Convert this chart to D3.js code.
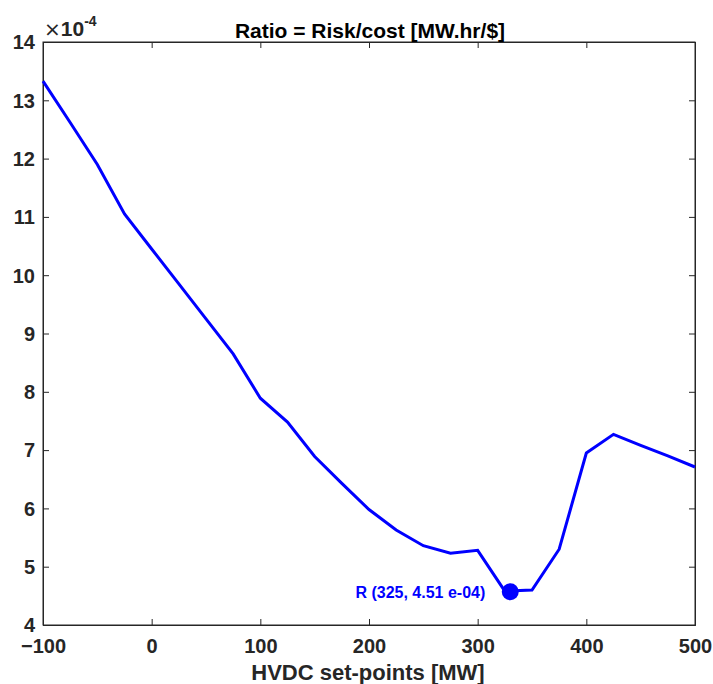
<!DOCTYPE html>
<html><head><meta charset="utf-8">
<script src="https://cdn.jsdelivr.net/npm/d3@7"></script>
<style>body{margin:0;background:#fff}svg{display:block}text{font-family:"Liberation Sans",Arial,sans-serif;font-weight:bold}</style>
</head><body>
<svg id="c" width="713" height="684"></svg>
<script>
const setPoints = [-100,-75,-50,-25,0,25,50,75,100,125,150,175,200,225,250,275,300,325,350,375,400,425,450,475,500];
const ratio = [13.33,12.62,11.9,11.05,10.45,9.85,9.25,8.65,7.89,7.48,6.89,6.43,5.98,5.63,5.36,5.23,5.28,4.58,4.6,5.3,6.95,7.27,7.08,6.9,6.71];
const markerPt = [330, 4.57];
const markerLabel = "R (325, 4.51 e-04)";
const xTicks = [-100,0,100,200,300,400,500];
const yTicks = [4,5,6,7,8,9,10,11,12,13,14];
const titleText = "Ratio = Risk/cost [MW.hr/$]";
const xLabel = "HVDC set-points [MW]";

const svg = d3.select("#c");
const L=43,R=695,T=42,B=625;
const x = d3.scaleLinear().domain([-100,500]).range([L,R]);
const y = d3.scaleLinear().domain([4,14]).range([B,T]);
const ac="#262626";

svg.append("rect").attr("x",L).attr("y",T).attr("width",R-L).attr("height",B-T).attr("fill","none").attr("stroke",ac).attr("stroke-width",1);

const xa = svg.append("g").attr("transform",`translate(0,${B})`).call(d3.axisBottom(x).tickValues(xTicks).tickSize(-6).tickPadding(14).tickFormat(d3.format("d")));
const ya = svg.append("g").attr("transform",`translate(${L},0)`).call(d3.axisLeft(y).tickValues(yTicks).tickSize(-6).tickPadding(8).tickFormat(d3.format("d")));
const xt = svg.append("g").attr("transform",`translate(0,${T})`).call(d3.axisTop(x).tickValues(xTicks).tickSize(-6).tickFormat(""));
const yr = svg.append("g").attr("transform",`translate(${R},0)`).call(d3.axisRight(y).tickValues(yTicks).tickSize(-6).tickFormat(""));
[xa,ya,xt,yr].forEach(g=>{g.select(".domain").attr("stroke",ac);g.selectAll(".tick line").attr("stroke",ac);g.selectAll("text").attr("fill",ac).style("font-size","20px").style("font-weight","bold").style("font-family","'Liberation Sans',Arial,sans-serif");});
xa.selectAll("text").attr("dy","0.71em");
ya.selectAll("text").attr("dy","0.34em");

const ex = svg.append("text").attr("x",44).attr("y",36).attr("fill",ac).style("font-size","21px");
ex.append("tspan").text("\u00d7").style("font-weight","normal").style("font-family","'DejaVu Sans',sans-serif").style("font-size","20px");
ex.append("tspan").text("10");
ex.append("tspan").text("-4").attr("dy",-10).style("font-size","14px");

svg.append("path").datum(setPoints.map((d,i)=>[d,ratio[i]]))
  .attr("d",d3.line().x(d=>x(d[0])).y(d=>y(d[1])))
  .attr("fill","none").attr("stroke","#0000ff").attr("stroke-width",3).attr("stroke-linejoin","miter");

svg.append("circle").attr("cx",x(markerPt[0])).attr("cy",y(markerPt[1])).attr("r",8.5).attr("fill","#0000ff");
svg.append("text").attr("x",x(markerPt[0])-25).attr("y",y(markerPt[1])+6).attr("text-anchor","end").attr("fill","#0000ff").style("font-size","16px").text(markerLabel);

svg.append("text").attr("x",370).attr("y",38).attr("text-anchor","middle").attr("fill","#000").style("font-size","21px").text(titleText);
svg.append("text").attr("x",368).attr("y",680).attr("text-anchor","middle").attr("fill",ac).style("font-size","22px").text(xLabel);
</script>
</body></html>
